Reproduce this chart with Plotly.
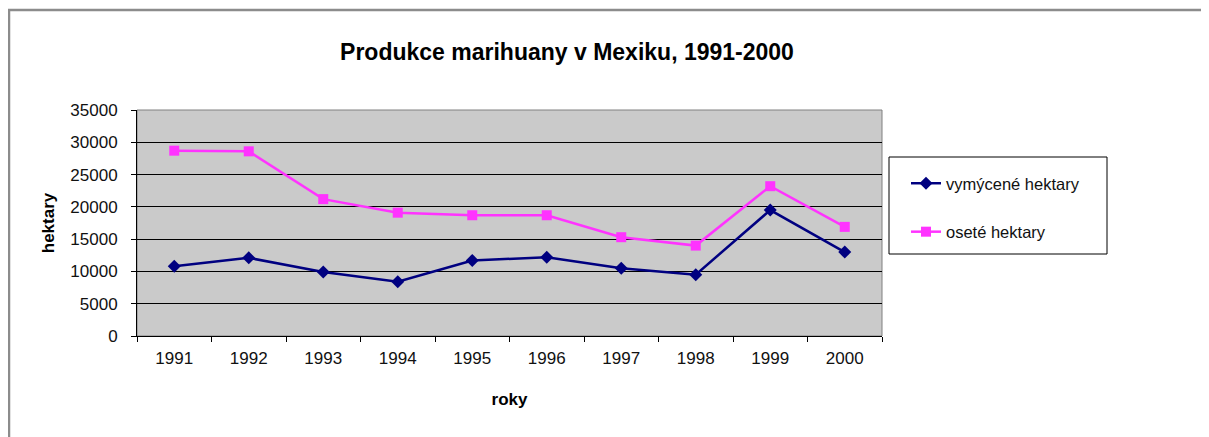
import plotly.graph_objects as go

years = ["1991", "1992", "1993", "1994", "1995", "1996", "1997", "1998", "1999", "2000"]
vymycene = [10800, 12100, 9900, 8400, 11700, 12200, 10500, 9500, 19500, 13000]
osete = [28700, 28600, 21200, 19100, 18700, 18700, 15300, 14000, 23200, 16900]
y_ticks = [0, 5000, 10000, 15000, 20000, 25000, 30000, 35000]

FONT = "Liberation Sans, Arial, sans-serif"
W, H = 1209, 437
# page is offset by the 8px body margin, so coordinates below are page - 8
OFF = 8
L, R, T, B = 137 - OFF, 1209 - (882 - OFF), 110 - OFF, 437 - (336 - OFF)
PW, PH = W - L - R, H - T - B


def px(x):
    """page x -> paper x"""
    return (x - OFF - L) / PW


def py(y):
    """page y -> paper y"""
    return (H - B - (y - OFF)) / PH


fig = go.Figure()
fig.add_trace(go.Scatter(
    x=years, y=vymycene, name="vymýcené hektary", mode="lines+markers",
    line=dict(color="#000080", width=2.5),
    marker=dict(symbol="diamond", size=10, color="#000080"),
    legendgroup="a",
))
fig.add_trace(go.Scatter(
    x=years, y=osete, name="oseté hektary", mode="lines+markers",
    line=dict(color="#ff33ff", width=2.5),
    marker=dict(symbol="square", size=10, color="#ff33ff"),
    legendgroup="b",
))

shapes = [
    # outer chart frame
    dict(type="rect", xref="paper", yref="paper",
         x0=px(9), x1=px(1204), y0=py(470), y1=py(10),
         line=dict(color="#8c8c8c", width=2.5), fillcolor="rgba(0,0,0,0)", layer="below"),
    # plot area border (top/right)
    dict(type="rect", xref="paper", yref="paper", x0=0, x1=1, y0=0, y1=1,
         line=dict(color="#808080", width=1), fillcolor="rgba(0,0,0,0)", layer="below"),
    # legend box
    dict(type="rect", xref="paper", yref="paper",
         x0=px(889), x1=px(1107), y0=py(254), y1=py(157),
         line=dict(color="#000000", width=1), fillcolor="#ffffff", layer="below"),
]

fig.update_layout(
    width=W, height=H,
    margin=dict(l=L, r=R, t=T, b=B),
    paper_bgcolor="#ffffff",
    plot_bgcolor="#cacaca",
    font=dict(family=FONT, size=17, color="#111111"),
    title=dict(text="<b>Produkce marihuany v Mexiku, 1991-2000</b>",
               x=px(567), xref="paper", xanchor="center",
               y=1 - (52 - OFF) / H, yanchor="middle",
               font=dict(size=23, family=FONT, color="#000000")),
    showlegend=True,
    legend=dict(
        x=px(906), y=py(166), xanchor="left", yanchor="top",
        bgcolor="rgba(0,0,0,0)", borderwidth=0,
        traceorder="grouped", tracegroupgap=24,
        font=dict(size=16.5, family=FONT, color="#111111"),
    ),
    shapes=shapes,
)

fig.update_xaxes(
    type="category", categoryorder="array", categoryarray=years,
    range=[-0.5, 9.5], tickson="boundaries",
    ticks="outside", ticklen=5, tickcolor="#000000", tickwidth=1,
    showline=True, linecolor="#000000", linewidth=1,
    showgrid=False, zeroline=False,
    ticklabelstandoff=7,
    title=dict(text="<b>roky</b>", standoff=25, font=dict(size=17, family=FONT, color="#000000")),
)
fig.update_yaxes(
    range=[0, 35000], tickvals=y_ticks, ticktext=[str(v) for v in y_ticks],
    ticks="outside", ticklen=5, tickcolor="#000000", tickwidth=1,
    showline=True, linecolor="#000000", linewidth=1,
    showgrid=True, gridcolor="#000000", gridwidth=1,
    zeroline=False, ticklabelstandoff=10,
    title=dict(text="<b>hektary</b>", standoff=11, font=dict(size=17, family=FONT, color="#000000")),
)

fig.write_html("out.html")
